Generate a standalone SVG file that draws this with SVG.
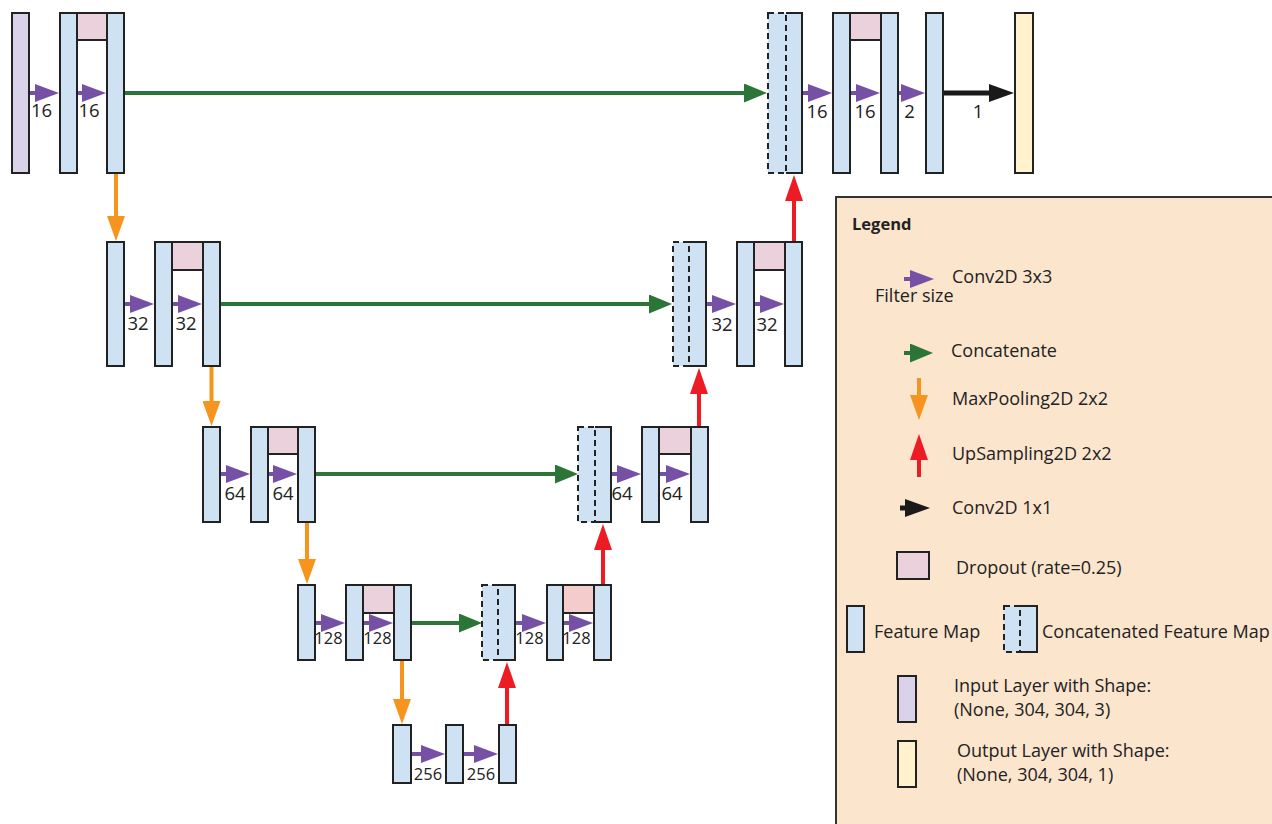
<svg xmlns="http://www.w3.org/2000/svg" width="1272" height="824" viewBox="0 0 1272 824">
<style>
.fm{fill:#cfe2f3;stroke:#222;stroke-width:2}
.dr{fill:#ead1dc;stroke:#222;stroke-width:2}
.dr2{fill:#f4cccc;stroke:#222;stroke-width:2}
.in{fill:#d9d2e9;stroke:#222;stroke-width:2}
.out{fill:#fff2cc;stroke:#222;stroke-width:2}
.cf{fill:#cfe2f3;stroke:none}
.cs{fill:none;stroke:#222;stroke-width:2}
.cd{fill:#cfe2f3;stroke:#222;stroke-width:2;stroke-dasharray:6 4}
.t{font-family:"Open Sans","Noto Sans",sans-serif;font-size:18px;fill:#222}
.n{font-family:"Open Sans","Noto Sans",sans-serif;font-size:18.5px;fill:#222;text-anchor:middle}
.ns{font-family:"Open Sans","Noto Sans",sans-serif;font-size:16.5px;fill:#222;text-anchor:middle}
.pa{stroke:#7650a5;stroke-width:4;fill:none;marker-end:url(#mp)}
.ga{stroke:#2b7537;stroke-width:4;fill:none;marker-end:url(#mg)}
.oa{stroke:#f7941d;stroke-width:4;fill:none;marker-end:url(#mo)}
.ra{stroke:#ed1c24;stroke-width:4;fill:none;marker-end:url(#mr)}
.ka{stroke:#1a1a1a;stroke-width:5;fill:none;marker-end:url(#mk)}
</style>
<defs>
<marker id="mp" viewBox="0 0 24 18" refX="1" refY="9" markerWidth="24" markerHeight="18" markerUnits="userSpaceOnUse" orient="auto"><path d="M0,0 L24,9 L0,18 z" fill="#7650a5"/></marker>
<marker id="mg" viewBox="0 0 23 19" refX="1" refY="9.5" markerWidth="23" markerHeight="19" markerUnits="userSpaceOnUse" orient="auto"><path d="M0,0 L23,9.5 L0,19 z" fill="#2b7537"/></marker>
<marker id="mo" viewBox="0 0 25 18" refX="1" refY="9" markerWidth="25" markerHeight="18" markerUnits="userSpaceOnUse" orient="auto"><path d="M0,0 L25,9 L0,18 z" fill="#f7941d"/></marker>
<marker id="mr" viewBox="0 0 26 18" refX="1" refY="9" markerWidth="26" markerHeight="18" markerUnits="userSpaceOnUse" orient="auto"><path d="M0,0 L26,9 L0,18 z" fill="#ed1c24"/></marker>
<marker id="mk" viewBox="0 0 25 18" refX="1" refY="9" markerWidth="25" markerHeight="18" markerUnits="userSpaceOnUse" orient="auto"><path d="M0,0 L25,9 L0,18 z" fill="#1a1a1a"/></marker>
</defs>
<rect width="1272" height="824" fill="#fff"/>

<g id="connectors">
<!-- row 1 -->
<line class="pa" x1="29" y1="93" x2="36" y2="93"/>
<line class="pa" x1="77" y1="93" x2="83" y2="93"/>
<line class="ga" x1="124" y1="93" x2="745" y2="93"/>
<line class="pa" x1="802" y1="93" x2="809" y2="93"/>
<line class="pa" x1="850" y1="93" x2="857" y2="93"/>
<line class="pa" x1="898" y1="93" x2="902" y2="93"/>
<line class="ka" x1="943" y1="93" x2="990" y2="93"/>
<!-- row 2 -->
<line class="pa" x1="124" y1="304" x2="131" y2="304"/>
<line class="pa" x1="172" y1="304" x2="179" y2="304"/>
<line class="ga" x1="220" y1="304" x2="650" y2="304"/>
<line class="pa" x1="706" y1="304" x2="713" y2="304"/>
<line class="pa" x1="754" y1="304" x2="761" y2="304"/>
<!-- row 3 -->
<line class="pa" x1="220" y1="474" x2="227" y2="474"/>
<line class="pa" x1="268" y1="474" x2="274" y2="474"/>
<line class="ga" x1="316" y1="474" x2="556" y2="474"/>
<line class="pa" x1="612" y1="474" x2="618" y2="474"/>
<line class="pa" x1="659" y1="474" x2="667" y2="474"/>
<!-- row 4 -->
<line class="pa" x1="315" y1="623" x2="322" y2="623"/>
<line class="pa" x1="363" y1="623" x2="370" y2="623"/>
<line class="ga" x1="411" y1="623" x2="460" y2="623"/>
<line class="pa" x1="515" y1="623" x2="523" y2="623"/>
<line class="pa" x1="563" y1="623" x2="570" y2="623"/>
<!-- row 5 -->
<line class="pa" x1="411" y1="754" x2="422" y2="754"/>
<line class="pa" x1="463" y1="754" x2="475" y2="754"/>
<!-- pooling -->
<line class="oa" x1="116" y1="174" x2="116" y2="217"/>
<line class="oa" x1="211.5" y1="367" x2="211.5" y2="402"/>
<line class="oa" x1="307" y1="523" x2="307" y2="560"/>
<line class="oa" x1="402" y1="661" x2="402" y2="700"/>
<!-- upsampling -->
<line class="ra" x1="507" y1="724" x2="507" y2="687"/>
<line class="ra" x1="603" y1="584" x2="603" y2="549"/>
<line class="ra" x1="699" y1="426" x2="699" y2="393"/>
<line class="ra" x1="794" y1="241" x2="794" y2="200"/>
</g>

<g id="input"><rect class="in" x="12" y="13" width="17" height="160"/></g>
<g id="conv1a"><rect class="fm" x="60" y="13" width="17" height="160"/></g>
<g id="drop1"><rect class="dr" x="77" y="13" width="30" height="27"/></g>
<g id="conv1b"><rect class="fm" x="107" y="13" width="17" height="160"/></g>

<g id="pool1"><rect class="fm" x="107" y="242" width="17" height="124"/></g>
<g id="conv2a"><rect class="fm" x="155" y="242" width="17" height="124"/></g>
<g id="drop2"><rect class="dr" x="172" y="242" width="31" height="28"/></g>
<g id="conv2b"><rect class="fm" x="203" y="242" width="17" height="124"/></g>

<g id="pool2"><rect class="fm" x="203" y="427" width="17" height="95"/></g>
<g id="conv3a"><rect class="fm" x="251" y="427" width="17" height="95"/></g>
<g id="drop3"><rect class="dr" x="268" y="427" width="30" height="27"/></g>
<g id="conv3b"><rect class="fm" x="298" y="427" width="17" height="95"/></g>

<g id="pool3"><rect class="fm" x="298" y="585" width="17" height="75"/></g>
<g id="conv4a"><rect class="fm" x="346" y="585" width="17" height="75"/></g>
<g id="drop4"><rect class="dr" x="363" y="585" width="31" height="28"/></g>
<g id="conv4b"><rect class="fm" x="394" y="585" width="17" height="75"/></g>

<g id="pool4"><rect class="fm" x="393" y="725" width="18" height="58"/></g>
<g id="conv5a"><rect class="fm" x="446" y="725" width="17" height="58"/></g>
<g id="conv5b"><rect class="fm" x="499" y="725" width="17" height="58"/></g>

<g id="concat6"><rect class="cf" x="498" y="585" width="17" height="75"/><path class="cs" d="M498,585 H515 V660 H498"/><rect class="cd" x="482" y="585" width="16" height="75"/></g>
<g id="conv6a"><rect class="fm" x="547" y="585" width="16" height="75"/></g>
<g id="drop6"><rect class="dr2" x="563" y="585" width="31" height="28"/></g>
<g id="conv6b"><rect class="fm" x="594" y="585" width="17" height="75"/></g>

<g id="concat7"><rect class="cf" x="595" y="427" width="16" height="95"/><path class="cs" d="M595,427 H611 V522 H595"/><rect class="cd" x="578" y="427" width="17" height="95"/></g>
<g id="conv7a"><rect class="fm" x="642" y="427" width="17" height="95"/></g>
<g id="drop7"><rect class="dr" x="659" y="427" width="32" height="27"/></g>
<g id="conv7b"><rect class="fm" x="691" y="427" width="17" height="95"/></g>

<g id="concat8"><rect class="cf" x="689" y="242" width="17" height="124"/><path class="cs" d="M689,242 H706 V366 H689"/><rect class="cd" x="673" y="242" width="16" height="124"/></g>
<g id="conv8a"><rect class="fm" x="737" y="242" width="17" height="124"/></g>
<g id="drop8"><rect class="dr" x="754" y="242" width="31" height="28"/></g>
<g id="conv8b"><rect class="fm" x="785" y="242" width="17" height="124"/></g>

<g id="concat9"><rect class="cf" x="786" y="13" width="16" height="160"/><path class="cs" d="M786,13 H802 V173 H786"/><rect class="cd" x="768" y="13" width="18" height="160"/></g>
<g id="conv9a"><rect class="fm" x="833" y="13" width="17" height="160"/></g>
<g id="drop9"><rect class="dr" x="850" y="13" width="31" height="27"/></g>
<g id="conv9b"><rect class="fm" x="881" y="13" width="17" height="160"/></g>
<g id="conv9c"><rect class="fm" x="926" y="13" width="17" height="160"/></g>
<g id="output"><rect class="out" x="1015" y="13" width="18" height="160"/></g>

<g id="labels">
<text class="n" x="41.5" y="117">16</text>
<text class="n" x="89" y="117">16</text>
<text class="n" x="817" y="118">16</text>
<text class="n" x="865" y="118">16</text>
<text class="n" x="909.5" y="118">2</text>
<text class="n" x="978" y="118">1</text>
<text class="n" x="138" y="330">32</text>
<text class="n" x="186" y="330">32</text>
<text class="n" x="722" y="331">32</text>
<text class="n" x="767" y="331">32</text>
<text class="n" x="235" y="500">64</text>
<text class="n" x="283" y="500">64</text>
<text class="n" x="622" y="500">64</text>
<text class="n" x="672" y="500">64</text>
<text class="ns" x="328.5" y="644">128</text>
<text class="ns" x="377.5" y="644">128</text>
<text class="ns" x="529.5" y="644">128</text>
<text class="ns" x="576.5" y="644">128</text>
<text class="ns" x="428" y="780">256</text>
<text class="ns" x="481" y="780">256</text>
</g>

<g id="legend">
<rect x="836" y="197" width="450" height="640" fill="#fce5cd" stroke="#333" stroke-width="2"/>
<text x="852" y="230" style="font-family:'Open Sans','Noto Sans',sans-serif;font-size:16.5px;font-weight:bold;fill:#222">Legend</text>
<line class="pa" x1="904" y1="279" x2="911" y2="279"/>
<text class="t" x="952" y="283">Conv2D 3x3</text>
<text class="t" x="875" y="302">Filter size</text>
<line class="ga" x1="904" y1="353" x2="911" y2="353"/>
<text class="t" x="951" y="357">Concatenate</text>
<line class="oa" x1="919" y1="378" x2="919" y2="396"/>
<text class="t" x="952" y="405">MaxPooling2D 2x2</text>
<line class="ra" x1="919" y1="477" x2="919" y2="459"/>
<text class="t" x="952" y="460">UpSampling2D 2x2</text>
<line class="ka" x1="900" y1="508" x2="906" y2="508"/>
<text class="t" x="952" y="514">Conv2D 1x1</text>
<rect class="dr" x="897" y="552" width="32" height="27"/>
<text class="t" x="956" y="574">Dropout (rate=0.25)</text>
<rect class="fm" x="847" y="606" width="17" height="46"/>
<text class="t" x="874" y="638">Feature Map</text>
<rect class="cf" x="1020" y="606" width="17" height="46"/>
<path class="cs" d="M1020,606 H1037 V652 H1020"/>
<rect class="cd" x="1004" y="606" width="16" height="46"/>
<text class="t" x="1042" y="638">Concatenated Feature Map</text>
<rect class="in" x="898" y="676" width="18" height="46"/>
<text class="t" x="954" y="692">Input Layer with Shape:</text>
<text class="t" x="954" y="716">(None, 304, 304, 3)</text>
<rect class="out" x="898" y="741" width="18" height="46"/>
<text class="t" x="957" y="757">Output Layer with Shape:</text>
<text class="t" x="957" y="781">(None, 304, 304, 1)</text>
</g>
</svg>
